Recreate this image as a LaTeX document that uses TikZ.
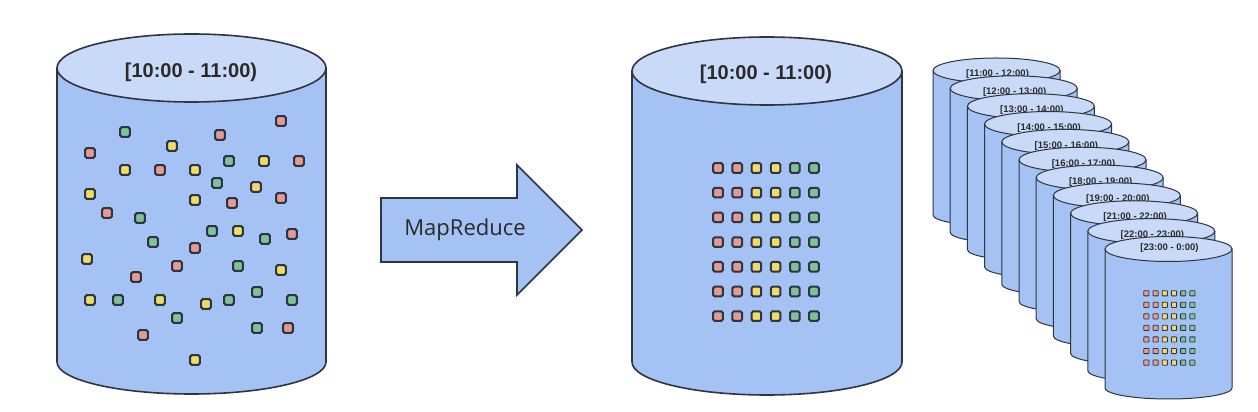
\documentclass[tikz,border=0pt]{standalone}
\usepackage{fontspec}
\setmainfont{Liberation Sans}
\newfontfamily\osans{Open Sans}
\definecolor{bodyc}{HTML}{A4C2F4}
\definecolor{topc}{HTML}{C9DAF8}
\definecolor{outl}{HTML}{2E3440}
\definecolor{txt}{HTML}{2A2A2A}
\definecolor{sqr}{HTML}{E39A93}
\definecolor{sqy}{HTML}{F0DA68}
\definecolor{sqg}{HTML}{7DC29B}
\tikzset{
  cylbody/.style={draw=outl, fill=bodyc, line join=round},
  cyltop/.style={draw=outl, fill=topc, line join=round},
  sq/.style={draw=outl, line width=2pt, minimum size=9.6pt, inner sep=0pt, rounded corners=1.5pt},
  smallsq/.style={draw=outl, line width=0.8pt, minimum size=5.2pt, inner sep=0pt, rounded corners=0.6pt},
  biglab/.style={text=txt, font=\fontsize{20}{24}\selectfont\bfseries, inner sep=0pt},
  smalllab/.style={text=txt, font=\fontsize{9.5}{11}\selectfont\bfseries, inner sep=0pt},
  arrowshape/.style={draw=outl, fill=bodyc, line width=1.6pt, line join=miter},
}
% #1 name, #2 cx, #3 top y(px), #4 bottom y(px), #5 rx, #6 ry top, #7 ry bottom, #8 line width
\newcommand\mycyl[8]{%
  \path[cylbody, line width=#8] (#2-#5,412-#3) -- (#2-#5,412-#4)
     arc[start angle=180, end angle=360, x radius=#5, y radius=#7] -- (#2+#5,412-#3) -- cycle;
  \path[cyltop, line width=#8] (#2,412-#3) ellipse[x radius=#5, y radius=#6];
  \coordinate (#1) at (#2,412-#3);
}
\begin{document}
\begin{tikzpicture}[x=1pt,y=1pt]
\useasboundingbox (0,0) rectangle (1258,412);
\fill[white] (0,0) rectangle (1258,412);

% ---------- left cylinder ----------
\mycyl{left}{191.5}{68}{362}{134.5}{34}{32}{1.6pt}
\node[biglab] (leftlab) at (191,412-72) {[10:00 - 11:00)};
\foreach \x/\y/\c [count=\i] in {
 281/121/sqr, 125/132/sqg, 220/135/sqr, 172/146/sqy, 90/153/sqr,
 229/161/sqg, 264/161/sqy, 299/161/sqr, 125/170/sqy, 160/170/sqr,
 195/170/sqy, 217/183/sqg, 256/187/sqy, 90/194/sqy, 195/200/sqy,
 232/203/sqr, 281/198/sqr, 107/213/sqr, 140/218/sqg, 212/231/sqg,
 238/231/sqy, 265/239/sqg, 292/234/sqr, 153/242/sqg, 195/248/sqr,
 87/259/sqy, 177/266/sqr, 238/266/sqg, 281/270/sqy, 136/277/sqr,
 90/300/sqy, 118/300/sqg, 160/300/sqy, 206/304/sqy, 229/300/sqg,
 257/292/sqg, 292/300/sqg, 177/318/sqg, 143/335/sqr, 257/328/sqg,
 288/328/sqr, 195/360/sqy}
{ \node[sq, fill=\c] (l\i) at (\x,412-\y) {}; }

% ---------- arrow ----------
\coordinate (a1) at (381,412-198);
\coordinate (a2) at (517,412-198);
\coordinate (a3) at (517,412-165);
\coordinate (tip) at (582,412-230);
\coordinate (a5) at (517,412-295);
\coordinate (a6) at (517,412-262);
\coordinate (a7) at (381,412-262);
\draw[arrowshape] (a1) -- (a2) -- (a3) -- (tip) -- (a5) -- (a6) -- (a7) -- cycle;
\node[text=txt, font=\osans\fontsize{22}{26}\selectfont, inner sep=0pt] (mr) at (465,412-230) {MapReduce};

% ---------- middle cylinder ----------
\mycyl{mid}{767}{71}{362}{135}{34}{33}{1.6pt}
\node[biglab] (midlab) at (766,412-74) {[10:00 - 11:00)};
\foreach \r in {0,...,6}{
  \foreach \cc/\col in {0/sqr,1/sqr,2/sqy,3/sqy,4/sqg,5/sqg}{
    \node[sq, fill=\col] (m\r\cc) at (718+19.2*\cc, 412-168-24.7*\r) {};
  }
}

% ---------- stack of hourly cylinders ----------
\foreach \lab [count=\i from 0] in {
  {[11:00 - 12:00)}, {[12:00 - 13:00)}, {[13:00 - 14:00)}, {[14:00 - 15:00)},
  {[15:00 - 16:00)}, {[16:00 - 17:00)}, {[18:00 - 19:00)}, {[19:00 - 20:00)},
  {[21:00 - 22:00)}, {[22:00 - 23:00)}, {[23:00 - 0:00)}}
{
  \pgfmathsetmacro\cx{996.5+17.2*\i}
  \pgfmathsetmacro\ty{70.5+17.85*\i}
  \pgfmathsetmacro\by{215+17.3*\i}
  \pgfmathsetmacro\ly{\ty+(\i<10 ? 4 : -1)}
  \mycyl{s\i}{\cx}{\ty}{\by}{63.5}{12.5}{11}{1pt}
  \node[smalllab] (sl\i) at (\cx+1,412-\ly) {\lab};
}
\foreach \r in {0,...,6}{
  \foreach \cc/\col in {0/sqr,1/sqr,2/sqy,3/sqy,4/sqg,5/sqg}{
    \node[smallsq, fill=\col] (t\r\cc) at (1146.4+9.2*\cc, 412-293.3-11.55*\r) {};
  }
}
\end{tikzpicture}
\end{document}
